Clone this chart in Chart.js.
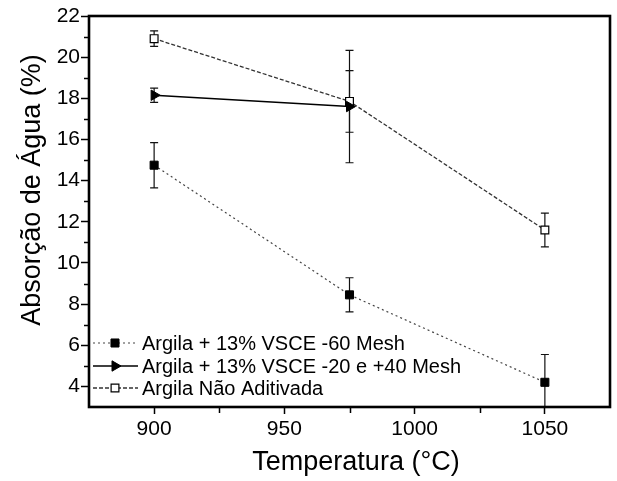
<!DOCTYPE html>
<html lang="pt">
<head>
<meta charset="UTF-8">
<title>Absorção de Água</title>
<script src="https://cdn.jsdelivr.net/npm/chart.js"></script>
<style>
  html, body { margin: 0; padding: 0; background: #fff; }
</style>
</head>
<body>
<canvas id="absorcaoChart" width="617" height="481"></canvas>
<script>
// dados
const temperaturas = [900, 975, 1050];
const mesh60 = [14.75, 8.45, 4.2];
const mesh60Erro = [1.1, 0.83, 1.35];
const mesh2040 = [18.15, 17.6];
const mesh2040Erro = [0.35, 2.73];
const naoAditivada = [20.9, 17.85, 11.6];
const naoAditivadaErro = [0.38, 1.5, 0.82];
const xTicks = [900, 950, 1000, 1050];
const xMinor = [925, 975, 1025];
const yTicks = [4, 6, 8, 10, 12, 14, 16, 18, 20, 22];
const yMinor = [5, 7, 9, 11, 13, 15, 17, 19, 21];
const rotulos = ['Argila + 13% VSCE -60 Mesh', 'Argila + 13% VSCE -20 e +40 Mesh', 'Argila Não Aditivada'];

const FONTE = '"Liberation Sans", Arial, sans-serif';

function pontos(ys) {
    return ys.map((y, i) => ({ x: temperaturas[i], y: y }));
}

// barras de erro, desenhadas antes dos marcadores
const barrasErro = {
    id: 'barrasErro',
    beforeDatasetsDraw(chart) {
        const ctx = chart.ctx, y = chart.scales.y, a = chart.chartArea;
        ctx.save();
        ctx.beginPath();
        ctx.rect(a.left, a.top, a.right - a.left, a.bottom - a.top);
        ctx.clip();
        ctx.strokeStyle = '#111';
        ctx.lineWidth = 1.2;
        chart.data.datasets.forEach((ds, i) => {
            const meta = chart.getDatasetMeta(i);
            meta.data.forEach((p, j) => {
                const e = ds.erros[j];
                const v = ds.data[j].y;
                const top = y.getPixelForValue(v + e), bot = y.getPixelForValue(v - e);
                ctx.beginPath();
                ctx.moveTo(p.x, top); ctx.lineTo(p.x, bot);
                ctx.moveTo(p.x - 4, top); ctx.lineTo(p.x + 4, top);
                ctx.moveTo(p.x - 4, bot); ctx.lineTo(p.x + 4, bot);
                ctx.stroke();
            });
        });
        ctx.restore();
    }
};

// moldura, ticks menores, títulos dos eixos e legenda
const moldura = {
    id: 'moldura',
    afterDraw(chart) {
        const ctx = chart.ctx, a = chart.chartArea;
        const xs = chart.scales.x, ys = chart.scales.y;
        ctx.save();
        ctx.strokeStyle = '#000';
        ctx.lineWidth = 2.6;
        ctx.strokeRect(a.left, a.top, a.right - a.left, a.bottom - a.top);

        ctx.lineWidth = 1.5;
        ctx.beginPath();
        yMinor.forEach(v => {
            const py = Math.round(ys.getPixelForValue(v)) + 0.5;
            ctx.moveTo(a.left - 5, py); ctx.lineTo(a.left, py);
        });
        xMinor.forEach(v => {
            const px = Math.round(xs.getPixelForValue(v)) + 0.5;
            ctx.moveTo(px, a.bottom); ctx.lineTo(px, a.bottom + 6);
        });
        ctx.stroke();

        ctx.fillStyle = '#000';
        ctx.font = '27px ' + FONTE;
        ctx.textAlign = 'center';
        ctx.textBaseline = 'alphabetic';
        ctx.fillText('Temperatura (°C)', 356, 470);
        ctx.save();
        ctx.translate(40, 190);
        ctx.rotate(-Math.PI / 2);
        ctx.fillText('Absorção de Água (%)', 0, 0);
        ctx.restore();

        // legenda
        const linhas = [343, 366, 388];
        chart.data.datasets.forEach((ds, i) => {
            const ly = linhas[i];
            ctx.strokeStyle = ds.borderColor;
            ctx.lineWidth = ds.borderWidth;
            ctx.setLineDash(ds.borderDash || []);
            ctx.beginPath();
            ctx.moveTo(93, ly); ctx.lineTo(138, ly);
            ctx.stroke();
            ctx.setLineDash([]);
            ctx.fillStyle = ds.pointBackgroundColor;
            ctx.strokeStyle = ds.pointBorderColor;
            ctx.lineWidth = ds.pointBorderWidth;
            Chart.helpers.drawPoint(ctx, {
                pointStyle: ds.pointStyle,
                radius: ds.pointRadius,
                rotation: ds.pointRotation || 0,
                borderWidth: ds.pointBorderWidth
            }, 115, ly);
            ctx.fillStyle = '#000';
            ctx.font = '20px ' + FONTE;
            ctx.textAlign = 'left';
            ctx.textBaseline = 'middle';
            ctx.fillText(ds.label, 142, ly + 1);
        });
        ctx.restore();
    }
};

new Chart(document.getElementById('absorcaoChart').getContext('2d'), {
    type: 'line',
    data: {
        datasets: [{
            label: rotulos[0],
            data: pontos(mesh60),
            erros: mesh60Erro,
            borderColor: '#444',
            borderWidth: 1.2,
            borderDash: [2, 3],
            pointStyle: 'rect',
            pointRadius: 5.7,
            pointBackgroundColor: '#000',
            pointBorderColor: '#000',
            pointBorderWidth: 1
        }, {
            label: rotulos[1],
            data: pontos(mesh2040),
            erros: mesh2040Erro,
            borderColor: '#000',
            borderWidth: 1.5,
            pointStyle: 'triangle',
            pointRotation: 90,
            pointRadius: 6,
            pointBackgroundColor: '#000',
            pointBorderColor: '#000',
            pointBorderWidth: 1
        }, {
            label: rotulos[2],
            data: pontos(naoAditivada),
            erros: naoAditivadaErro,
            borderColor: '#333',
            borderWidth: 1.3,
            borderDash: [4, 2],
            pointStyle: 'rect',
            pointRadius: 5.5,
            pointBackgroundColor: '#fff',
            pointBorderColor: '#000',
            pointBorderWidth: 1.2
        }]
    },
    options: {
        responsive: false,
        animation: false,
        devicePixelRatio: 1,
        layout: { padding: { top: 16, right: 5, left: 0, bottom: 0 } },
        plugins: { legend: { display: false }, tooltip: { enabled: false } },
        scales: {
            x: {
                type: 'linear',
                min: 875,
                max: 1075,
                afterBuildTicks: s => { s.ticks = xTicks.map(v => ({ value: v })); },
                afterFit: s => { s.height = 74; },
                ticks: { color: '#000', padding: 3, font: { family: FONTE, size: 21 }, callback: v => String(v) },
                grid: { drawOnChartArea: false, tickLength: 7, tickWidth: 1.5, color: '#000' },
                border: { display: false }
            },
            y: {
                min: 3,
                max: 22,
                afterBuildTicks: s => { s.ticks = yTicks.map(v => ({ value: v })); },
                afterFit: s => { s.width = 89; },
                ticks: { color: '#000', padding: 1, font: { family: FONTE, size: 21 }, callback: v => String(v) },
                grid: { drawOnChartArea: false, tickLength: 8, tickWidth: 1.5, color: '#000' },
                border: { display: false }
            }
        }
    },
    plugins: [barrasErro, moldura]
});
</script>
</body>
</html>
